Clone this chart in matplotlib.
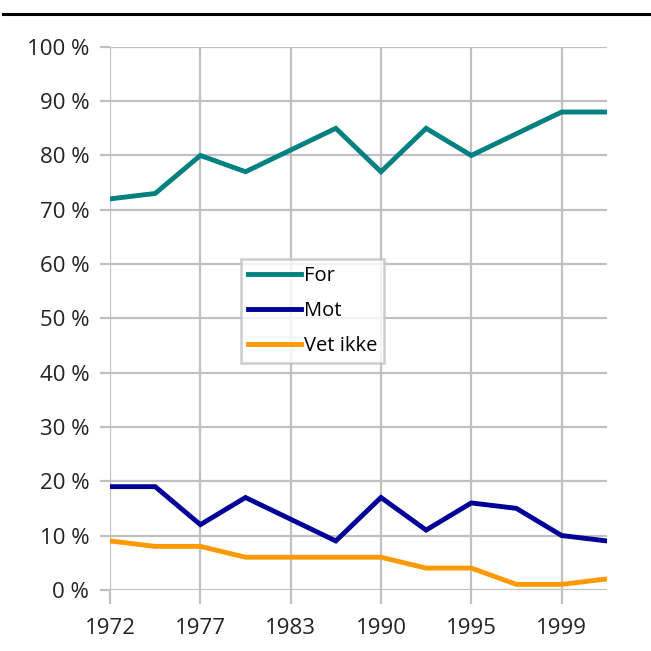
import matplotlib.pyplot as plt

# Data
years = ["1972", "1974", "1977", "1980", "1983", "1986",
         "1990", "1993", "1995", "1997", "1999", "2001"]
for_vals = [72, 73, 80, 77, 81, 85, 77, 85, 80, 84, 88, 88]
mot_vals = [19, 19, 12, 17, 13, 9, 17, 11, 16, 15, 10, 9]
vet_vals = [9, 8, 8, 6, 6, 6, 6, 4, 4, 1, 1, 2]

plt.rcParams['font.family'] = ['Open Sans', 'DejaVu Sans']
grid_c = '#c0c0c0'

fig = plt.figure(figsize=(6.51, 6.51), dpi=100)
ax = fig.add_axes([0.169, 0.094, 0.763, 0.834])

x = list(range(len(years)))
ax.plot(x, for_vals, color='#008080', lw=3.5, label='For', solid_joinstyle='miter')
ax.plot(x, mot_vals, color='#000099', lw=3.5, label='Mot', solid_joinstyle='miter')
ax.plot(x, vet_vals, color='#ff9900', lw=3.5, label='Vet ikke', solid_joinstyle='miter')

ax.set_xlim(0, len(years) - 1)
ax.set_ylim(0, 100)
ax.set_xticks(x[::2])
ax.set_xticklabels(years[::2])
ax.set_yticks(range(0, 101, 10))
ax.set_yticklabels([f"{v} %" for v in range(0, 101, 10)])

ax.grid(True, color=grid_c, lw=1.6)
ax.set_axisbelow(True)
for s in ax.spines.values():
    s.set_visible(False)
ax.tick_params(axis='both', color=grid_c, width=1.6, length=7, labelsize=16, labelcolor='#222222')
ax.tick_params(axis='x', pad=10, length=10)
ax.tick_params(axis='y', pad=8)

leg = ax.legend(loc='upper left', bbox_to_anchor=(0.264, 0.61), fontsize=14.5,
                frameon=True, fancybox=False, handlelength=2.6, handletextpad=0.15,
                borderpad=0.35, labelspacing=0.76, borderaxespad=0)
leg.get_frame().set_edgecolor(grid_c)
leg.get_frame().set_linewidth(1.8)

# Top rule
fig.add_artist(plt.Line2D([0.005, 1.0], [0.979, 0.979], color='black', lw=2.2,
                          transform=fig.transFigure))

fig.savefig('out.png', dpi=100)
